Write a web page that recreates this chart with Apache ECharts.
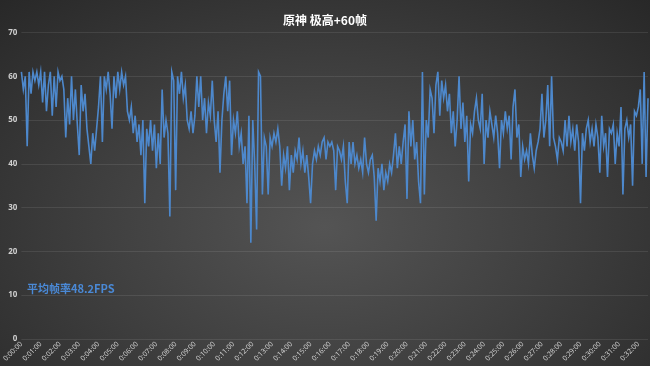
<!DOCTYPE html>
<html>
<head>
<meta charset="utf-8">
<script src="https://cdn.jsdelivr.net/npm/echarts@6/dist/echarts.min.js"></script>
<style>
html,body{margin:0;padding:0;}
body{width:650px;height:366px;background:radial-gradient(ellipse 75% 90% at 50% 62%, #545454 0%, #404040 45%, #262626 100%);}
#c{width:650px;height:366px;}
</style>
</head>
<body>
<div id="c"></div>
<script>
const titleText = '原神 极高+60帧';
const avgText = '平均帧率48.2FPS';
const stepSeconds = 6;
const yTicks = [0, 10, 20, 30, 40, 50, 60, 70];
const fps = [
61,57,60,44,61,56,61,59,61,58,
61,54,61,52,58,61,51,60,53,61,
59,60,57,46,55,49,60,50,57,49,
42,58,52,56,48,44,40,47,43,48,
53,60,45,60,57,61,56,48,60,55,
61,57,61,58,60,52,50,53,47,51,
45,49,42,50,31,48,44,50,43,49,
39,47,40,57,46,50,47,28,61,59,
34,60,56,61,55,58,50,48,52,47,
51,60,53,60,50,55,47,54,51,59,
50,45,52,38,50,56,60,52,59,42,
50,47,52,44,47,40,44,31,51,22,
50,40,25,61,60,33,46,44,33,46,
44,47,45,48,44,35,42,39,44,34,
42,38,43,41,46,40,43,38,42,37,
31,40,43,41,44,42,45,46,41,45,
44,45,43,34,44,43,41,44,36,31,
45,40,45,40,42,39,41,38,46,40,
38,41,42,37,27,39,36,40,34,38,
36,40,38,42,47,39,44,40,45,49,
32,52,44,50,41,45,36,31,61,33,
50,46,57,55,47,58,61,51,59,55,
58,52,56,47,52,44,50,60,48,54,
45,51,36,49,47,52,55,50,48,56,
40,50,46,52,49,46,51,47,39,50,
47,52,48,51,41,53,57,46,49,37,
44,41,43,40,47,42,39,43,45,48,
56,46,50,58,44,60,46,44,41,46,
45,43,50,44,51,45,48,43,49,45,
31,47,43,48,50,45,48,44,49,46,
38,51,44,47,37,48,47,49,40,47,
44,53,33,48,50,46,49,35,52,51,
53,57,40,61,37,55
];
function fmt(sec){
  const h = Math.floor(sec/3600), m = Math.floor((sec%3600)/60), s = sec%60;
  return h + ':' + String(m).padStart(2,'0') + ':' + String(s).padStart(2,'0');
}
const times = fps.map((v,i)=>fmt(i*stepSeconds));
const chart = echarts.init(document.getElementById('c'), null, {renderer:'canvas'});
chart.setOption({
  backgroundColor: 'transparent',
  animation: false,
  title: {
    text: titleText, left: 'center', top: 9,
    textStyle: {color:'#ffffff', fontSize: 12, fontWeight:'bold', fontFamily:'Noto Sans CJK SC'}
  },
  grid: {left: 20, right: 2, top: 32.5, bottom: 27, containLabel: false},
  xAxis: {
    type: 'category', data: times, boundaryGap: false,
    axisLine: {show:false}, axisTick: {show:false},
    axisLabel: {interval: 60/stepSeconds - 1, rotate: 45, fontSize: 7, color:'#cfcfcf', margin: 4, fontFamily:'Noto Sans'},
    splitLine: {show:false}
  },
  yAxis: {
    type: 'value', min: yTicks[0], max: yTicks[yTicks.length-1], interval: 10,
    axisLine: {show:false}, axisTick: {show:false},
    axisLabel: {fontSize: 8, color:'#cfcfcf', margin: 4, fontWeight:'bold', fontFamily:'Noto Sans'},
    splitLine: {lineStyle: {color: 'rgba(255,255,255,0.09)', width: 1}}
  },
  graphic: [{
    type: 'text', left: 27, top: 283,
    style: {text: avgText, fill: '#4a89d6', font: 'bold 11px "Noto Sans CJK SC"'}
  }],
  series: [{
    type: 'line', data: fps, showSymbol: false, symbol: 'none',
    lineStyle: {color: '#4d88cc', width: 1.6, join: 'miter'},
    itemStyle: {color: '#4d88cc'}
  }]
});
</script>
</body>
</html>
